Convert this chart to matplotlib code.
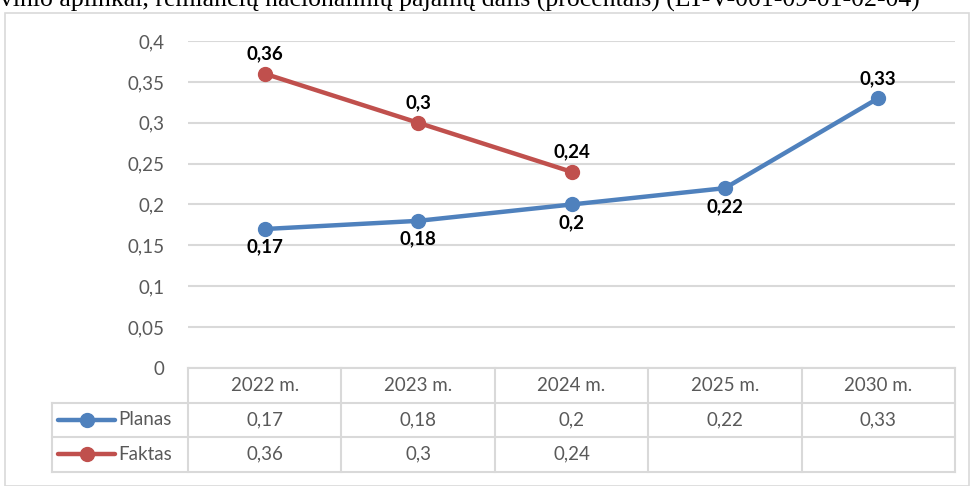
import matplotlib.pyplot as plt
from matplotlib.patches import Rectangle

categories = ['2022 m.', '2023 m.', '2024 m.', '2025 m.', '2030 m.']
planas = [0.17, 0.18, 0.2, 0.22, 0.33]
faktas = [0.36, 0.3, 0.24]
planas_labels = ['0,17', '0,18', '0,2', '0,22', '0,33']
faktas_labels = ['0,36', '0,3', '0,24']
yticks = [0, 0.05, 0.1, 0.15, 0.2, 0.25, 0.3, 0.35, 0.4]
ytick_labels = ['0', '0,05', '0,1', '0,15', '0,2', '0,25', '0,3', '0,35', '0,4']

blue = '#4F81BD'
red = '#C0504D'
grid = '#D9D9D9'
txt = '#595959'
plt.rcParams['font.family'] = ['Lato', 'DejaVu Sans']

W, H = 972, 486
fig = plt.figure(figsize=(9.72, 4.86), dpi=100)

# caption line above the chart, cut off by the image edge as in the source
fig.text(0.0, 1 - 7 / H, 'vinio aplinkai, remiančių nacionalinių pajamų dalis (procentais) (LT-V-001-09-01-02-04)',
         family='Liberation Serif', fontsize=18.5, va='baseline', ha='left', color='black')

# chart border
fig.patches.append(Rectangle((5 / W, 0), 964 / W, 1 - 13 / H, transform=fig.transFigure,
                             fill=False, edgecolor=grid, lw=1.2))

left, right, top, bottom = 188, 955, 41, 368
ax = fig.add_axes([left / W, 1 - bottom / H, (right - left) / W, (bottom - top) / H])
x = list(range(len(categories)))
ax.plot(x, planas, color=blue, lw=3.2, marker='o', ms=10, solid_capstyle='round', zorder=3)
ax.plot(x[:len(faktas)], faktas, color=red, lw=3.2, marker='o', ms=10, solid_capstyle='round', zorder=3)

fs = 13.5
for i, (v, s) in enumerate(zip(planas, planas_labels)):
    if i == len(planas) - 1:
        ax.annotate(s, (i, v), xytext=(0, 8), textcoords='offset points', ha='center', va='bottom',
                    fontsize=fs, fontweight='bold', color='black')
    else:
        ax.annotate(s, (i, v), xytext=(0, -7), textcoords='offset points', ha='center', va='top',
                    fontsize=fs, fontweight='bold', color='black')
for i, (v, s) in enumerate(zip(faktas, faktas_labels)):
    ax.annotate(s, (i, v), xytext=(0, 8), textcoords='offset points', ha='center', va='bottom',
                fontsize=fs, fontweight='bold', color='black')

ax.set_xlim(-0.5, len(categories) - 0.5)
ax.set_ylim(0, 0.4)
ax.set_yticks(yticks)
ax.set_yticklabels(ytick_labels)
ax.tick_params(axis='y', length=0, pad=17, labelsize=13.5, labelcolor=txt)
ax.set_xticks([])
for sp in ax.spines.values():
    sp.set_visible(False)
ax.grid(axis='y', color=grid, lw=1.5)
ax.set_axisbelow(True)

# data table below the plot
tr = ax.get_xaxis_transform()
rh = 34.5 / (bottom - top)
unit = (right - left) / len(categories)
leg_left = -0.5 - (left - 52) / unit
lk = dict(color=grid, lw=1.5, clip_on=False, transform=tr)
ax.plot([-0.5, 4.5], [0, 0], **lk)
for r in (1, 2, 3):
    ax.plot([leg_left, 4.5], [-r * rh, -r * rh], **lk)
for c in range(len(categories) + 1):
    ax.plot([c - 0.5, c - 0.5], [0, -3 * rh], **lk)
ax.plot([leg_left, leg_left], [-rh, -3 * rh], **lk)

for i, c in enumerate(categories):
    ax.text(i, -0.5 * rh, c, transform=tr, ha='center', va='center', fontsize=13.5, color=txt)
    ax.text(i, -1.5 * rh, planas_labels[i], transform=tr, ha='center', va='center', fontsize=13.5, color=txt)
    if i < len(faktas):
        ax.text(i, -2.5 * rh, faktas_labels[i], transform=tr, ha='center', va='center', fontsize=13.5, color=txt)

for r, (name, col) in enumerate([('Planas', blue), ('Faktas', red)]):
    yy = -(r + 1.5) * rh
    x0 = leg_left + 6 / unit
    x1 = leg_left + 63 / unit
    ax.plot([x0, x1], [yy, yy], color=col, lw=3.2, clip_on=False, transform=tr, solid_capstyle='round')
    ax.plot([(x0 + x1) / 2], [yy], color=col, marker='o', ms=10, clip_on=False, transform=tr)
    ax.text(leg_left + 66 / unit, yy, name, transform=tr, ha='left', va='center', fontsize=13.5, color=txt)

fig.savefig('out.png', dpi=100)
